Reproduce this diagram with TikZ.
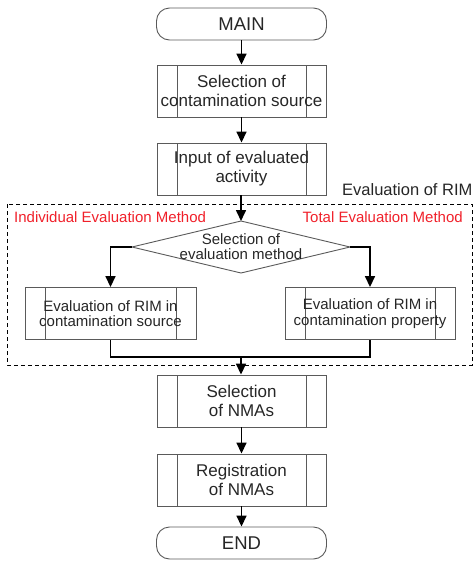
\documentclass[tikz,border=0pt]{standalone}
\usepackage{fontspec}
\setmainfont{Liberation Sans}
\usetikzlibrary{arrows.meta}
\definecolor{txt}{HTML}{262626}
\definecolor{edge}{HTML}{5A5A5A}
\definecolor{redtxt}{HTML}{F0202A}
\begin{document}
\begin{tikzpicture}[x=1pt,y=-1pt,
  every node/.style={text=txt, align=center, inner sep=0pt},
  term/.style={draw=edge, line width=0.9pt, rounded corners=13pt,
    minimum width=170pt, minimum height=32pt, font=\fontsize{18.5}{20}\selectfont},
  proc/.style={draw=edge, line width=0.9pt, minimum width=#1, minimum height=52pt,
    path picture={
      \draw[edge, line width=0.9pt]
        ([xshift=20pt]path picture bounding box.north west) -- ([xshift=20pt]path picture bounding box.south west)
        ([xshift=-20pt]path picture bounding box.north east) -- ([xshift=-20pt]path picture bounding box.south east);
    }},
  bigtxt/.style={font=\fontsize{17}{19}\selectfont},
  smalltxt/.style={font=\fontsize{15}{15.5}\selectfont},
  flow/.style={draw=black, line width=1.6pt, -{Triangle[width=10pt,length=11pt]}},
  plain/.style={draw=black, line width=1.6pt},
  groupbox/.style={draw=black, line width=1pt, dash pattern=on 4pt off 3pt},
  diam/.style={draw=edge, line width=0.9pt},
  redlbl/.style={text=redtxt, font=\fontsize{15}{17}\selectfont},
]
\useasboundingbox (0,0) rectangle (473,563);

% group box
\draw[groupbox] (7,204) rectangle (472,365);
\node[anchor=base west, font=\fontsize{16.5}{18}\selectfont] (evlbl) at (342,195) {Evaluation of RIM};
\node[redlbl, anchor=base west] (indiv) at (14,222) {Individual Evaluation Method};
\node[redlbl, anchor=base east] (total) at (463,222) {Total Evaluation Method};

% main column
\node[term] (main) at (241.5,24) {MAIN};
\node[proc=169pt, bigtxt] (b1) at (241.5,91) {Selection of\\contamination source};
\node[proc=169pt, bigtxt] (b2) at (241.5,169) {Input of evaluated\\activity};

% decision
\coordinate (dt) at (241,221);
\coordinate (db) at (241,273);
\coordinate (dl) at (132,247);
\coordinate (dr) at (350,247);
\draw[diam] (dt) -- (dr) -- (db) -- (dl) -- cycle;
\node[smalltxt] (dec) at (241,246.5) {Selection of\\evaluation method};

\node[proc=171pt, smalltxt] (lb) at (110.5,313.5) {Evaluation of RIM in\\contamination source};
\node[proc=170pt, smalltxt] (rb) at (370,313.5) {Evaluation of RIM in\\contamination property};

\coordinate (m) at (241,357);

\node[proc=169pt, bigtxt] (nma) at (241.5,401) {Selection\\of NMAs};
\node[proc=169pt, bigtxt] (reg) at (241.5,480) {Registration\\of NMAs};
\node[term] (fin) at (241.5,543) {END};

% connectors
\draw[flow] (main) -- (b1);
\draw[flow] (b1) -- (b2);
\draw[flow] (b2.south -| dt) -- (dt);
\draw[flow] (dl) -| (lb);
\draw[flow] (dr) -| (rb);
\draw[plain] (lb.south) |- (m) -| (rb.south);
\draw[flow] (m) -- (nma.north -| m);
\draw[flow] (nma) -- (reg);
\draw[flow] (reg) -- (fin);
\end{tikzpicture}
\end{document}
